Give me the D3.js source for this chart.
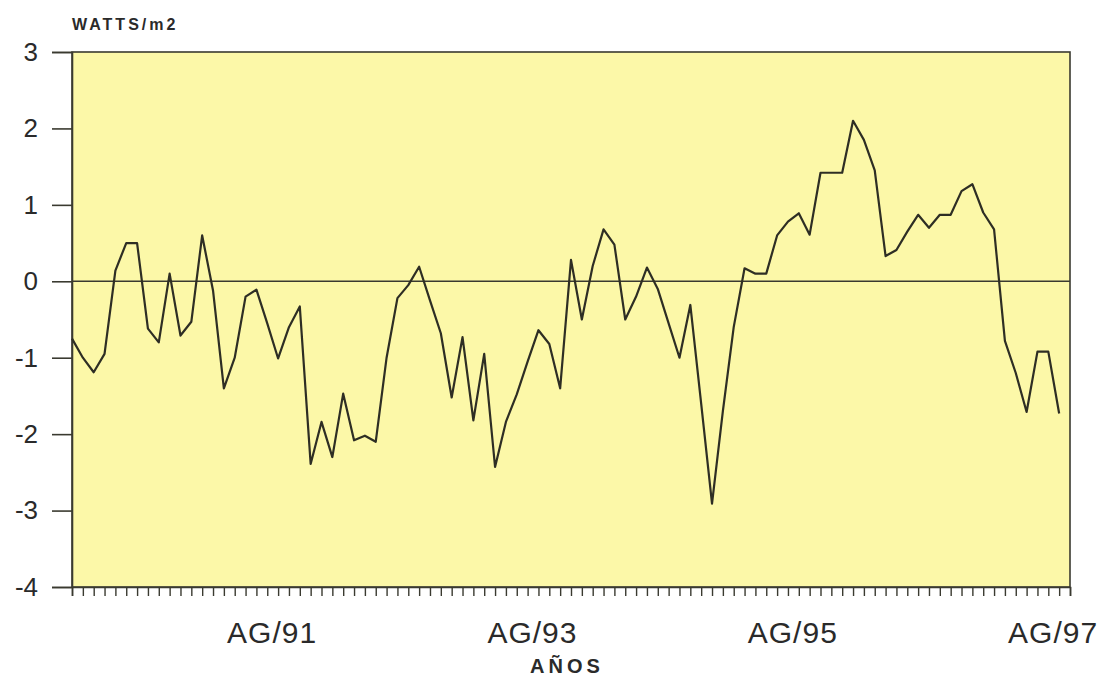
<!DOCTYPE html>
<html>
<head>
<meta charset="utf-8">
<script src="https://cdn.jsdelivr.net/npm/d3@7"></script>
<style>
  html, body { margin: 0; padding: 0; background: #ffffff; }
  svg { display: block; }
  text { font-family: "Liberation Sans", Arial, sans-serif; fill: #2a2a2a; }
</style>
</head>
<body>
<svg id="chart" width="1112" height="683"></svg>
<script>
// ---- data (monthly, Jan 1990 .. Aug 1997) ----
const startDate = new Date(1990, 0, 1);
const endDate = new Date(1997, 8, 1);
const months = d3.timeMonth.range(startDate, endDate); // 92 monthly categories

const values = [
  -0.75, -1.0, -1.19, -0.95, 0.14, 0.5, 0.5, -0.62, -0.8, 0.1,
  -0.71, -0.53, 0.6, -0.12, -1.40, -1.0, -0.2, -0.11, -0.55, -1.01,
  -0.6, -0.33, -2.39, -1.84, -2.30, -1.47, -2.08, -2.02, -2.10, -1.0,
  -0.22, -0.05, 0.19, -0.25, -0.68, -1.52, -0.73, -1.82, -0.95, -2.43,
  -1.84, -1.48, -1.05, -0.64, -0.82, -1.40, 0.28, -0.50, 0.2, 0.68,
  0.48, -0.50, -0.2, 0.18, -0.1, -0.55, -1.0, -0.31, -1.6, -2.91,
  -1.7, -0.6, 0.17, 0.1, 0.1, 0.6, 0.78, 0.89, 0.61, 1.42,
  1.42, 1.42, 2.1, 1.85, 1.45, 0.33, 0.41, 0.65, 0.87, 0.70,
  0.87, 0.87, 1.18, 1.27, 0.9, 0.68, -0.78, -1.2, -1.71, -0.92,
  -0.92, -1.73
];

const yTicks = [3, 2, 1, 0, -1, -2, -3, -4];
const xTickLabels = ["AG/91", "AG/93", "AG/95", "AG/97"];
const xTickMonths = [new Date(1991, 7, 1), new Date(1993, 7, 1), new Date(1995, 7, 1), new Date(1997, 7, 1)];
const yUnitLabel = "WATTS/m2";
const xTitle = "AÑOS";

// ---- layout ----
const mLeft = 72, mRight = 1070, mTop = 52, mBottom = 587;
const svg = d3.select("#chart");

const idx = d => d3.timeMonth.count(startDate, d);
const x = d3.scaleLinear().domain([0, months.length]).range([mLeft, mRight]);
const y = d3.scaleLinear().domain([-4, 3]).range([mBottom, mTop]);

// plot background
svg.append("rect")
  .attr("x", mLeft).attr("y", mTop)
  .attr("width", mRight - mLeft).attr("height", mBottom - mTop)
  .attr("fill", "#fcf8a8")
  .attr("stroke", "#3a3a30").attr("stroke-width", 1.6);

// y axis
const yAxis = d3.axisLeft(y).tickValues(yTicks).tickSize(20).tickPadding(14)
  .tickFormat(d3.format("d"));
const gy = svg.append("g").attr("transform", `translate(${mLeft},0)`).call(yAxis);
gy.select(".domain").attr("stroke", "#3a3a30").attr("stroke-width", 1.6);
gy.selectAll(".tick line").attr("stroke", "#3a3a30").attr("stroke-width", 1.6);
gy.selectAll(".tick text")
  .attr("font-size", 26)
  .attr("font-family", "Liberation Sans, Arial, sans-serif")
  .attr("fill", "#333333")
  .text(d => d < 0 ? "-" + Math.abs(d) : d);

// x axis: monthly minor ticks
const monthTicks = d3.range(0, months.length + 1);
const xAxis = d3.axisBottom(x).tickValues(monthTicks).tickSize(9).tickFormat("");
const gx = svg.append("g").attr("transform", `translate(0,${mBottom})`).call(xAxis);
gx.select(".domain").attr("stroke", "#3a3a30").attr("stroke-width", 1.6);
gx.selectAll(".tick line").attr("stroke", "#3a3a30").attr("stroke-width", 1.4);

// x tick labels
svg.append("g").selectAll("text")
  .data(xTickLabels)
  .join("text")
  .attr("x", (d, i) => x(idx(xTickMonths[i])) - 6)
  .attr("y", mBottom + 56)
  .attr("text-anchor", "middle")
  .attr("font-size", 30)
  .attr("letter-spacing", 1)
  .attr("fill", "#333333")
  .text(d => d);

// zero reference line
svg.append("line")
  .attr("x1", mLeft).attr("x2", mRight)
  .attr("y1", y(0)).attr("y2", y(0))
  .attr("stroke", "#3a3a30").attr("stroke-width", 1.6);

// series line
const line = d3.line()
  .x((d, i) => x(i))
  .y(d => y(d));
svg.append("path")
  .datum(values)
  .attr("d", line)
  .attr("fill", "none")
  .attr("stroke", "#2e2e24")
  .attr("stroke-width", 2.2)
  .attr("stroke-linejoin", "round");

// unit label
svg.append("text")
  .attr("x", mLeft).attr("y", 30)
  .attr("font-size", 16)
  .attr("font-weight", "bold")
  .attr("letter-spacing", 3)
  .text(yUnitLabel);

// x title
svg.append("text")
  .attr("x", 567).attr("y", 673)
  .attr("text-anchor", "middle")
  .attr("font-size", 20)
  .attr("font-weight", "bold")
  .attr("letter-spacing", 4)
  .text(xTitle);
</script>
</body>
</html>
